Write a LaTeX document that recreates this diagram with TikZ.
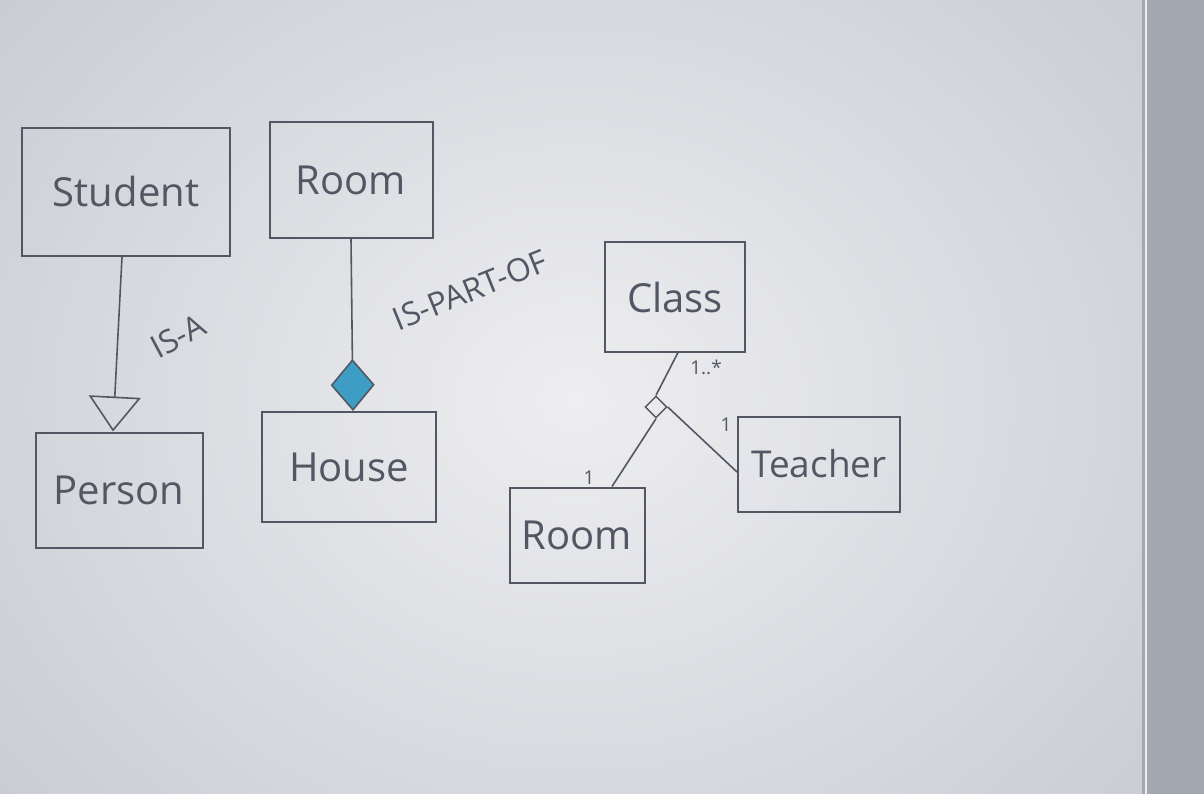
\documentclass[tikz,border=0pt]{standalone}
\usepackage{fontspec}
\setmainfont{Open Sans}
\usetikzlibrary{arrows.meta,shapes.geometric}
\definecolor{ink}{HTML}{525763}
\definecolor{bgout}{HTML}{C6C9D1}
\definecolor{bgin}{HTML}{EEEEF0}
\definecolor{strip}{HTML}{A2A7B0}
\definecolor{marker}{HTML}{3E9DC4}
\tikzset{
  cls/.style={draw=ink, line width=2pt, text=ink, font=\fontsize{40}{46}\selectfont, inner sep=0pt},
  conn/.style={draw=ink, line width=1.6pt},
  lbl/.style={text=ink, font=\fontsize{32}{36}\selectfont, inner sep=0pt},
  mult/.style={text=ink, font=\fontsize{19}{22}\selectfont, inner sep=0pt},
}
\begin{document}
\begin{tikzpicture}[x=1pt,y=-1pt]
\useasboundingbox (0,0) rectangle (1204,794);
% background
\fill[bgout] (0,0) rectangle (1204,794);
\shade[inner color=bgin, outer color=bgout] (-250,-300) rectangle (1400,1100);
\fill[strip] (1142,0) rectangle (1204,794);
\draw[white!80!strip, line width=1.5pt] (1146,0) -- (1146,794);

% classes
\node[cls, minimum width=208pt, minimum height=128pt] (student) at (126,192) {Student};
\node[cls, minimum width=163pt, minimum height=116pt] (roomA) at (351,180) {Room};
\node[cls, minimum width=167pt, minimum height=115pt] (person) at (119,490) {Person};
\node[cls, minimum width=174pt, minimum height=110pt] (house) at (349,467) {House};
\node[cls, minimum width=140pt, minimum height=109pt] (class) at (675,297) {Class};
\node[cls, minimum width=162pt, minimum height=95pt, font=\fontsize{37}{42}\selectfont] (teacher) at (819,464) {Teacher};
\node[cls, minimum width=135pt, minimum height=95pt] (roomB) at (577,535) {Room};

% inheritance
\draw[conn, -{Triangle[open, length=35pt, width=52pt, line width=1.6pt]}] ([xshift=-4pt]student.south) -- ([xshift=-6pt]person.north);
\node[lbl, rotate=28] (isa) at (178,336) {IS-A};

% composition
\draw[conn, -{Diamond[length=52pt, width=44pt, fill=marker, line width=1.6pt]}] (roomA.south) -- ([xshift=4pt]house.north);
\node[lbl, rotate=22] (ispartof) at (470,290) {IS-PART-OF};

% n-ary association
\node[draw=ink, line width=1.4pt, diamond, minimum size=22pt, inner sep=0pt] (assoc) at (656,407) {};
\draw[conn] ([xshift=3pt]class.south) -- (assoc.north);
\draw[conn] (assoc.south) -- ([xshift=35pt]roomB.north);
\draw[conn] (assoc.east) -- ([yshift=-8pt]teacher.west);
\node[mult] (m1) at (706,367) {1..*};
\node[mult] (m2) at (726,425) {1};
\node[mult] (m3) at (589,478) {1};
\end{tikzpicture}
\end{document}
